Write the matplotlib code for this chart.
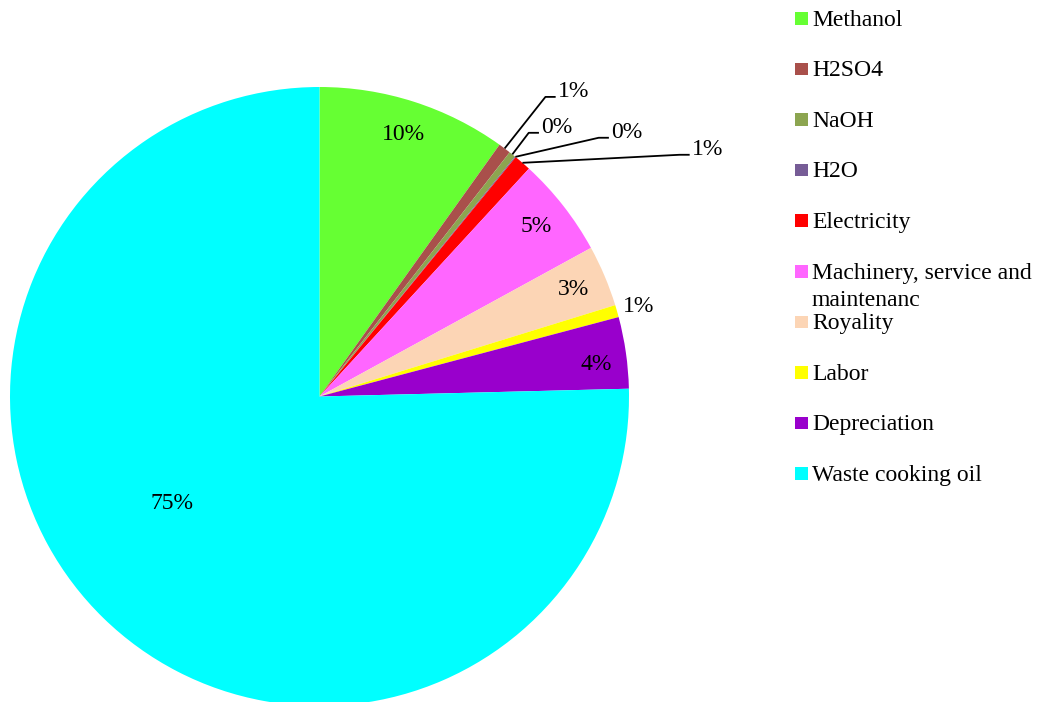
import numpy as np
import matplotlib
matplotlib.use("Agg")
import matplotlib.pyplot as plt
from matplotlib.patches import Rectangle

plt.rcParams['font.family'] = ['Liberation Serif', 'DejaVu Serif']

categories = ["Methanol", "H2SO4", "NaOH", "H2O", "Electricity",
              "Machinery, service and\nmaintenanc", "Royality", "Labor",
              "Depreciation", "Waste cooking oil"]
values = [9.88, 0.65, 0.35, 0.05, 0.90, 5.20, 3.20, 0.64, 3.73, 75.40]
colors = ["#66FF33", "#A9504B", "#8CA550", "#765C96", "#FF0000",
          "#FF66FF", "#FCD5B5", "#FFFF00", "#9900CC", "#00FFFF"]

W, H = 1040, 702
fig = plt.figure(figsize=(W / 100, H / 100), dpi=100)
cx, cy, R = 319.5, 396.5, 309.5
ax = fig.add_axes([(cx - R) / W, (H - cy - R) / H, 2 * R / W, 2 * R / H])

wedges, _ = ax.pie(values, colors=colors, startangle=90, counterclock=False,
                   radius=1, wedgeprops=dict(linewidth=0), center=(0, 0))
ax.set_xlim(-1, 1)
ax.set_ylim(-1, 1)
ax.set_aspect('equal')
ax.axis('off')

total = sum(values)
labels = ["%d%%" % round(v / total * 100) for v in values]
fs = 17

# inside labels: (index, radius fraction, angle fraction within wedge)
inside = {0: (0.89, 0.5), 5: (0.89, 0.5), 6: (0.89, 0.5), 8: (0.90, 0.62),
          9: (0.59, 0.536), 7: (1.07, 0.6)}
for i, (rf, af) in inside.items():
    w = wedges[i]
    t1, t2 = w.theta1, w.theta2
    ang = np.deg2rad(t1 + (t2 - t1) * (1 - af))
    ax.text(rf * np.cos(ang), rf * np.sin(ang), labels[i], ha='center', va='center',
            fontsize=fs, clip_on=False)

# leader-line labels: text left edge position in data coords
leader = {1: (0.770, 0.984), 2: (0.716, 0.868), 3: (0.942, 0.852), 4: (1.203, 0.797)}
for i, (tx, ty) in leader.items():
    w = wedges[i]
    ang = np.deg2rad((w.theta1 + w.theta2) / 2)
    sx, sy = np.cos(ang), np.sin(ang)
    ly = ty - 0.016
    ex = tx - 0.007
    bx = ex - 0.033
    ax.plot([sx, bx, ex], [sy, ly, ly], color='black', lw=1.3, clip_on=False,
            solid_capstyle='butt')
    ax.text(tx, ty, labels[i], ha='left', va='center', fontsize=fs, clip_on=False)

# legend drawn manually
y0, dy = 18, 50.6
for i, (c, lab) in enumerate(zip(colors, categories)):
    yc = y0 + i * dy
    fig.patches.append(Rectangle((795 / W, (H - yc - 6.5) / H), 12.5 / W, 12.5 / H,
                                 transform=fig.transFigure, facecolor=c,
                                 edgecolor='none'))
    for k, line in enumerate(lab.split('\n')):
        base = yc + 7.5 + k * 27
        fig.text(812 / W, (H - base) / H, line, ha='left', va='baseline', fontsize=fs)

fig.savefig("out.png", dpi=100)
